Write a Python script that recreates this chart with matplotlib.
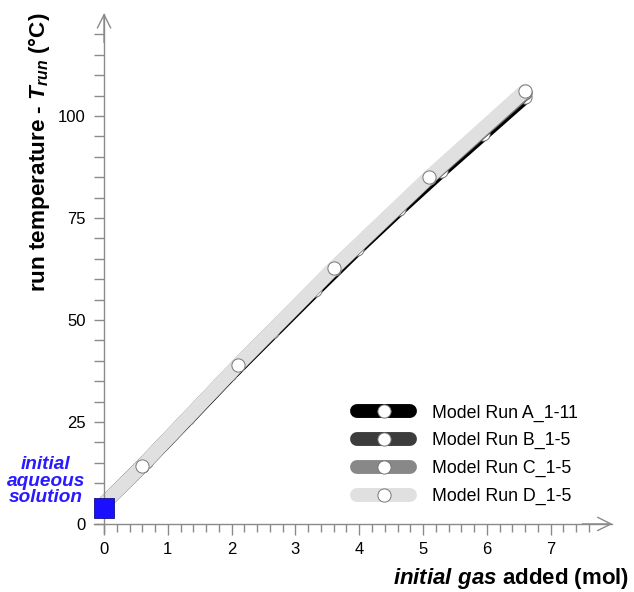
import matplotlib
matplotlib.use("Agg")
import matplotlib.pyplot as plt
from matplotlib.ticker import FixedLocator

plt.rcParams['font.family'] = ['Liberation Sans', 'DejaVu Sans']
plt.rcParams['mathtext.fontset'] = 'custom'
plt.rcParams['mathtext.rm'] = 'Liberation Sans:bold'
plt.rcParams['mathtext.it'] = 'Liberation Sans:bold:italic'
plt.rcParams['mathtext.bf'] = 'Liberation Sans:bold'

# ---- data ----
x_A = [0.0, 0.66, 1.32, 1.98, 2.64, 3.30, 3.96, 4.62, 5.28, 5.94, 6.60]
y_A = [5.0, 15.2, 25.9, 36.7, 47.0, 57.3, 67.4, 77.1, 86.5, 95.6, 104.7]
x_B = [0.0, 0.6, 2.1, 3.6, 5.1, 6.6]
y_B = [5.0, 14.3, 38.9, 62.5, 84.8, 105.6]
x_C = [0.0, 0.6, 2.1, 3.6, 5.1, 6.6]
y_C = [5.0, 14.3, 38.9, 62.6, 84.9, 105.8]
x_D = [0.0, 0.6, 2.1, 3.6, 5.1, 6.6]
y_D = [5.0, 14.3, 39.0, 62.7, 85.1, 106.2]
labels = ["Model Run A_1-11", "Model Run B_1-5", "Model Run C_1-5", "Model Run D_1-5"]
colors = ["#000000", "#3c3c3c", "#888888", "#e0e0e0"]
init_x = [0.0]
init_y = [4.0]

fig = plt.figure(figsize=(6.34, 5.92), dpi=100)
ax = fig.add_axes([0.1289, 0.0943, 0.8402, 0.889])
ax.set_xlim(-0.35, 8.0)
ax.set_ylim(-3, 126)

series = [(x_A, y_A), (x_B, y_B), (x_C, y_C), (x_D, y_D)]
handles = []
for (xs, ys), c, lab in zip(series, colors, labels):
    h, = ax.plot(xs, ys, color=c, lw=10, solid_capstyle='round',
                 marker='o', markevery=slice(1, None), ms=9.5,
                 mfc='white', mec='#777777', mew=0.7, label=lab, zorder=2)
    handles.append(h)

ax.plot(init_x, init_y, marker='s', ms=14, color='#1a10ff', mec='#10108a',
        mew=0.6, ls='none', zorder=5, clip_on=False)

# spines
for s in ['top', 'right']:
    ax.spines[s].set_visible(False)
grey = '#8a8a8a'
ax.spines['bottom'].set_bounds(-0.15, 7.96)
ax.spines['left'].set_bounds(-2.2, 125)
ax.spines['bottom'].set_position(('data', 0))
ax.spines['left'].set_position(('data', 0))
for s in ['bottom', 'left']:
    ax.spines[s].set_color(grey)
    ax.spines[s].set_linewidth(1.0)

ax.annotate('', xy=(7.97, 0), xytext=(7.5, 0),
            arrowprops=dict(arrowstyle='->', color=grey, lw=1.0, mutation_scale=24,
                            shrinkA=0, shrinkB=0))
ax.annotate('', xy=(0, 125.2), xytext=(0, 118),
            arrowprops=dict(arrowstyle='->', color=grey, lw=1.0, mutation_scale=24,
                            shrinkA=0, shrinkB=0))

ax.xaxis.set_major_locator(FixedLocator(range(0, 8)))
ax.xaxis.set_minor_locator(FixedLocator([i * 0.2 for i in range(0, 39) if i % 5 != 0]))
ax.yaxis.set_major_locator(FixedLocator([0, 25, 50, 75, 100]))
ax.yaxis.set_minor_locator(FixedLocator([v for v in range(5, 125, 5) if v % 25 != 0]))
ax.tick_params(axis='both', which='both', direction='out', color=grey, width=1.0)
ax.tick_params(axis='x', which='major', length=8, pad=5, labelsize=12)
ax.tick_params(axis='x', which='minor', length=6)
ax.tick_params(axis='y', which='major', length=7, pad=6, labelsize=12)
ax.tick_params(axis='y', which='minor', length=7)

fig.text(0.992, 0.013, r'$initial\ gas$ added (mol)', ha='right', va='baseline',
         fontsize=16, fontweight='bold')
fig.text(0.062, 0.743, r'run temperature - $T_{run}$ (°C)', rotation=90,
         ha='center', va='center', fontsize=16.2, fontweight='bold')

fig.text(0.072, 0.1875, 'initial\naqueous\nsolution', ha='center', va='center',
         fontsize=13.7, fontweight='bold', style='italic', color='#2a1aff',
         linespacing=0.95)

leg = ax.legend(handles=handles, loc='upper left', bbox_to_anchor=(0.563, 0.317),
                bbox_transform=fig.transFigure, frameon=False, fontsize=12.8,
                handlelength=3.0, handletextpad=1.24, labelspacing=0.6,
                borderpad=0, borderaxespad=0, numpoints=1)

fig.savefig('out.png', dpi=100)
